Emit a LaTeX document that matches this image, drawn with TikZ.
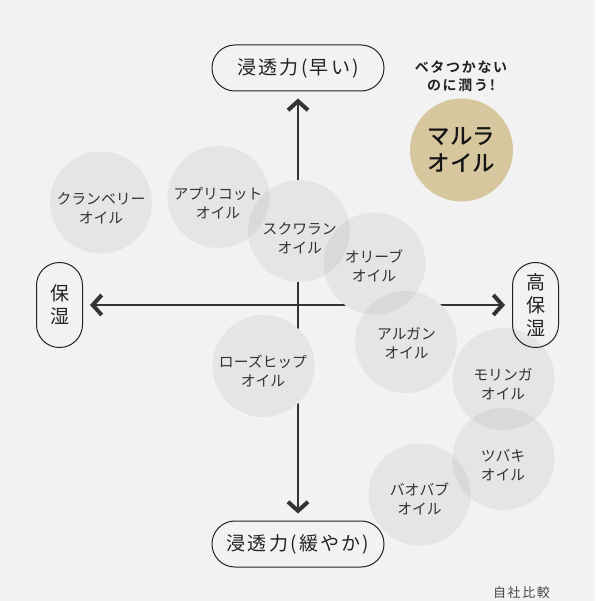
\documentclass[tikz,border=0pt]{standalone}
\usepackage{fontspec}
\setmainfont{Noto Sans CJK JP}
\newfontfamily\jpmed{Noto Sans CJK JP Medium}
\newfontfamily\jpwide[LetterSpace=12]{Noto Sans CJK JP}
\newfontfamily\jpwidebold[LetterSpace=12]{Noto Sans CJK JP Bold}
\usetikzlibrary{arrows.meta,backgrounds}
\definecolor{bgc}{HTML}{F2F2F2}
\definecolor{ink}{HTML}{333333}
\definecolor{pen}{HTML}{222222}
\definecolor{gold}{HTML}{D6C79F}
\tikzset{
  oil/.style={circle, minimum size=102pt, inner sep=0pt, fill=black, fill opacity=0.05},
  oiltext/.style={text=ink, align=center, inner sep=0pt, font=\fontsize{14.8}{19}\selectfont},
  pill/.style={draw=pen, line width=1pt, rounded corners=22.9pt, inner sep=0pt,
    text=pen, align=center},
  pillh/.style={pill, minimum width=172pt, minimum height=46pt, font=\jpwide\fontsize{19}{23}\selectfont},
  pillv/.style={pill, minimum width=46pt, minimum height=85pt, font=\fontsize{19}{23}\selectfont},
  axis/.style={draw=ink, line width=2.8pt, shorten >=7pt, shorten <=7pt,
    {Straight Barb[length=9pt,width=20pt,line width=4pt]}-{Straight Barb[length=9pt,width=20pt,line width=4pt]}},
  backing/.style={fill=bgc}
}
\begin{document}
\begin{tikzpicture}[x=1pt,y=-1pt]
\useasboundingbox (0,0) rectangle (595,601);
% oil circles
\node[oil] (cran) at (101,202.5) {};
\node[oil] (apri) at (218.5,197) {};
\node[oil] (squa) at (299,231) {};
\node[oil] (oliv) at (374.5,263.5) {};
\node[oil] (arga) at (406,342) {};
\node[oil] (rose) at (263.5,366) {};
\node[oil] (mori) at (503.5,379) {};
\node[oil] (tsub) at (503.5,459) {};
\node[oil] (baob) at (419.5,494.5) {};
\node[oiltext] (cranT) at (101,208.3) {クランベリー\\オイル};
\node[oiltext] (apriT) at (218,203) {アプリコット\\オイル};
\node[oiltext] (squaT) at (299.7,238) {スクワラン\\オイル};
\node[oiltext] (olivT) at (374,265.5) {オリーブ\\オイル};
\node[oiltext] (argaT) at (406.5,343.5) {アルガン\\オイル};
\node[oiltext] (roseT) at (263,370.5) {ローズヒップ\\オイル};
\node[oiltext] (moriT) at (503,383.8) {モリンガ\\オイル};
\node[oiltext] (tsubT) at (503,465) {ツバキ\\オイル};
\node[oiltext] (baobT) at (419.5,498.8) {バオバブ\\オイル};
% marula
\node[circle, fill=gold, minimum size=103pt, inner sep=0pt, align=center, text=black!92,
  font=\jpmed\fontsize{22.5}{27}\selectfont] (maru) at (461.5,150) {マルラ\\オイル};
\node[align=center, text=pen, font=\jpwidebold\fontsize{14}{18}\selectfont] (head) at (461,76) {ベタつかない\\のに潤う!};
% axis labels
\node[pillh] (fast) at (298,68) {浸透力(早い)};
\node[pillh] (slow) at (298,544) {浸透力(緩やか)};
\node[pillv] (low) at (59.5,305) {保\\湿};
\node[pillv] (high) at (535.5,305) {高\\保\\湿};
\node[text=ink!90, font=\jpwide\fontsize{13}{16}\selectfont] (note) at (521.5,593) {自社比較};
\begin{scope}[on background layer]
  \fill[bgc] (0,0) rectangle (595,601);
  \draw[axis] (fast) -- (slow);
  \draw[axis] (low) -- (high);
  \foreach \n in {cran,apri,squa,oliv,arga,rose,mori,tsub,baob}
    \fill[backing] (\n.center) circle[radius=51pt];
\end{scope}
\end{tikzpicture}
\end{document}
